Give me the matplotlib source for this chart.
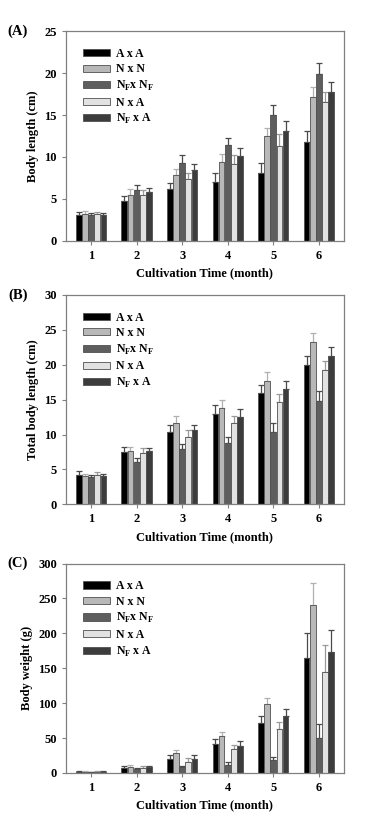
import numpy as np
import matplotlib
matplotlib.use("Agg")
import matplotlib.pyplot as plt

plt.rcParams['font.family'] = ['Liberation Serif', 'DejaVu Serif']
plt.rcParams['font.weight'] = 'bold'
plt.rcParams['mathtext.fontset'] = 'custom'
plt.rcParams['mathtext.rm'] = 'Liberation Serif:bold'
plt.rcParams['mathtext.bf'] = 'Liberation Serif:bold'

# DATA
months = [1, 2, 3, 4, 5, 6]
groups = ["A x A", "N x N", r"N$_\mathrm{F}$x N$_\mathrm{F}$", "N x A", r"N$_\mathrm{F}$ x A"]

# (A) body length (cm), rows = groups
len_mean = [
    [3.0, 4.7, 6.2, 7.0, 8.1, 11.8],
    [3.2, 5.5, 7.8, 9.4, 12.5, 17.1],
    [3.0, 6.0, 9.3, 11.4, 15.0, 19.9],
    [3.2, 5.4, 7.4, 9.2, 11.3, 16.5],
    [3.0, 5.8, 8.4, 10.1, 13.1, 17.7],
]
len_err = [
    [0.4, 0.6, 0.7, 1.1, 1.2, 1.3],
    [0.3, 0.7, 0.8, 0.9, 1.0, 1.3],
    [0.3, 0.6, 0.9, 0.8, 1.2, 1.3],
    [0.2, 0.6, 0.7, 1.0, 1.4, 1.3],
    [0.3, 0.5, 0.8, 1.0, 1.2, 1.3],
]

# (B) total body length (cm)
tot_mean = [
    [4.2, 7.5, 10.4, 12.9, 15.9, 20.0],
    [4.1, 7.7, 11.6, 13.8, 17.7, 23.2],
    [3.9, 6.1, 7.9, 8.8, 10.3, 14.8],
    [4.2, 7.4, 9.6, 11.6, 14.6, 19.2],
    [4.0, 7.6, 10.7, 12.5, 16.5, 21.2],
]
tot_err = [
    [0.5, 0.7, 0.9, 1.3, 1.2, 1.2],
    [0.3, 0.5, 1.0, 1.1, 1.3, 1.3],
    [0.3, 0.6, 0.8, 0.9, 1.3, 1.4],
    [0.4, 0.6, 1.0, 1.1, 1.2, 1.4],
    [0.3, 0.5, 0.7, 1.1, 1.2, 1.4],
]

# (C) body weight (g)
wt_mean = [
    [2, 7, 20, 42, 72, 165],
    [2, 8, 28, 53, 99, 240],
    [1.5, 5, 8, 12, 18, 50],
    [2, 7, 16, 34, 63, 145],
    [2, 8, 20, 39, 82, 174],
]
wt_err = [
    [0.5, 3, 5, 7, 9, 35],
    [0.5, 3, 5, 6, 9, 32],
    [0.5, 2, 2, 3, 5, 20],
    [0.5, 3, 6, 6, 10, 38],
    [0.5, 2, 5, 7, 9, 31],
]

colors = ["#000000", "#b8b8b8", "#5e5e5e", "#e2e2e2", "#3c3c3c"]
err_colors = ["#4a4a4a", "#b0b0b0", "#4a4a4a", "#9a9a9a", "#4a4a4a"]

panels = [
    ("(A)", "Body length (cm)", len_mean, len_err, 25, 5, [0.708, 0.254]),
    ("(B)", "Total body length (cm)", tot_mean, tot_err, 30, 5, [0.388, 0.254]),
    ("(C)", "Body weight (g)", wt_mean, wt_err, 300, 50, [0.062, 0.254]),
]

fig = plt.figure(figsize=(3.75, 8.24), dpi=100)
spine_c = "#808080"
bw = 0.125
gap = 0.01

for tag, ylab, mean, err, ymax, ystep, (bot, h) in panels:
    ax = fig.add_axes([0.176, bot, 0.741, h])
    x = np.array(months, dtype=float)
    for i in range(len(groups)):
        off = (i - 2) * (bw + gap)
        ax.bar(x + off, mean[i], width=bw, color=colors[i], edgecolor="#505050",
               linewidth=0.6, label=groups[i], zorder=2)
        ax.errorbar(x + off, mean[i], yerr=[np.zeros(6), err[i]], fmt="none",
                    ecolor=err_colors[i], elinewidth=0.9, capsize=2.5, capthick=0.9, zorder=1)
    ax.set_xlim(0.45, 6.55)
    ax.set_ylim(0, ymax)
    ax.set_yticks(np.arange(0, ymax + 1, ystep))
    ax.set_xticks(months)
    for s in ax.spines.values():
        s.set_color(spine_c)
        s.set_linewidth(0.9)
    ax.tick_params(colors=spine_c, labelcolor="black", labelsize=9, length=3, width=0.8)
    for lab in ax.get_xticklabels() + ax.get_yticklabels():
        lab.set_fontweight("bold")
    ax.set_xlabel("Cultivation Time (month)", fontsize=9, fontweight="bold", labelpad=4)
    ax.set_ylabel(ylab, fontsize=9, fontweight="bold", labelpad=4)
    ax.text(-0.137, 1.0, tag, transform=ax.transAxes, fontsize=10.5, fontweight="bold",
            ha="right", va="center")
    ax.legend(loc="upper left", frameon=False, handlelength=2.3,
              handleheight=0.55, labelspacing=0.3, handletextpad=0.5,
              borderaxespad=1.0, prop={"weight": "bold", "size": 8.5})

fig.savefig("out.png", dpi=100)
